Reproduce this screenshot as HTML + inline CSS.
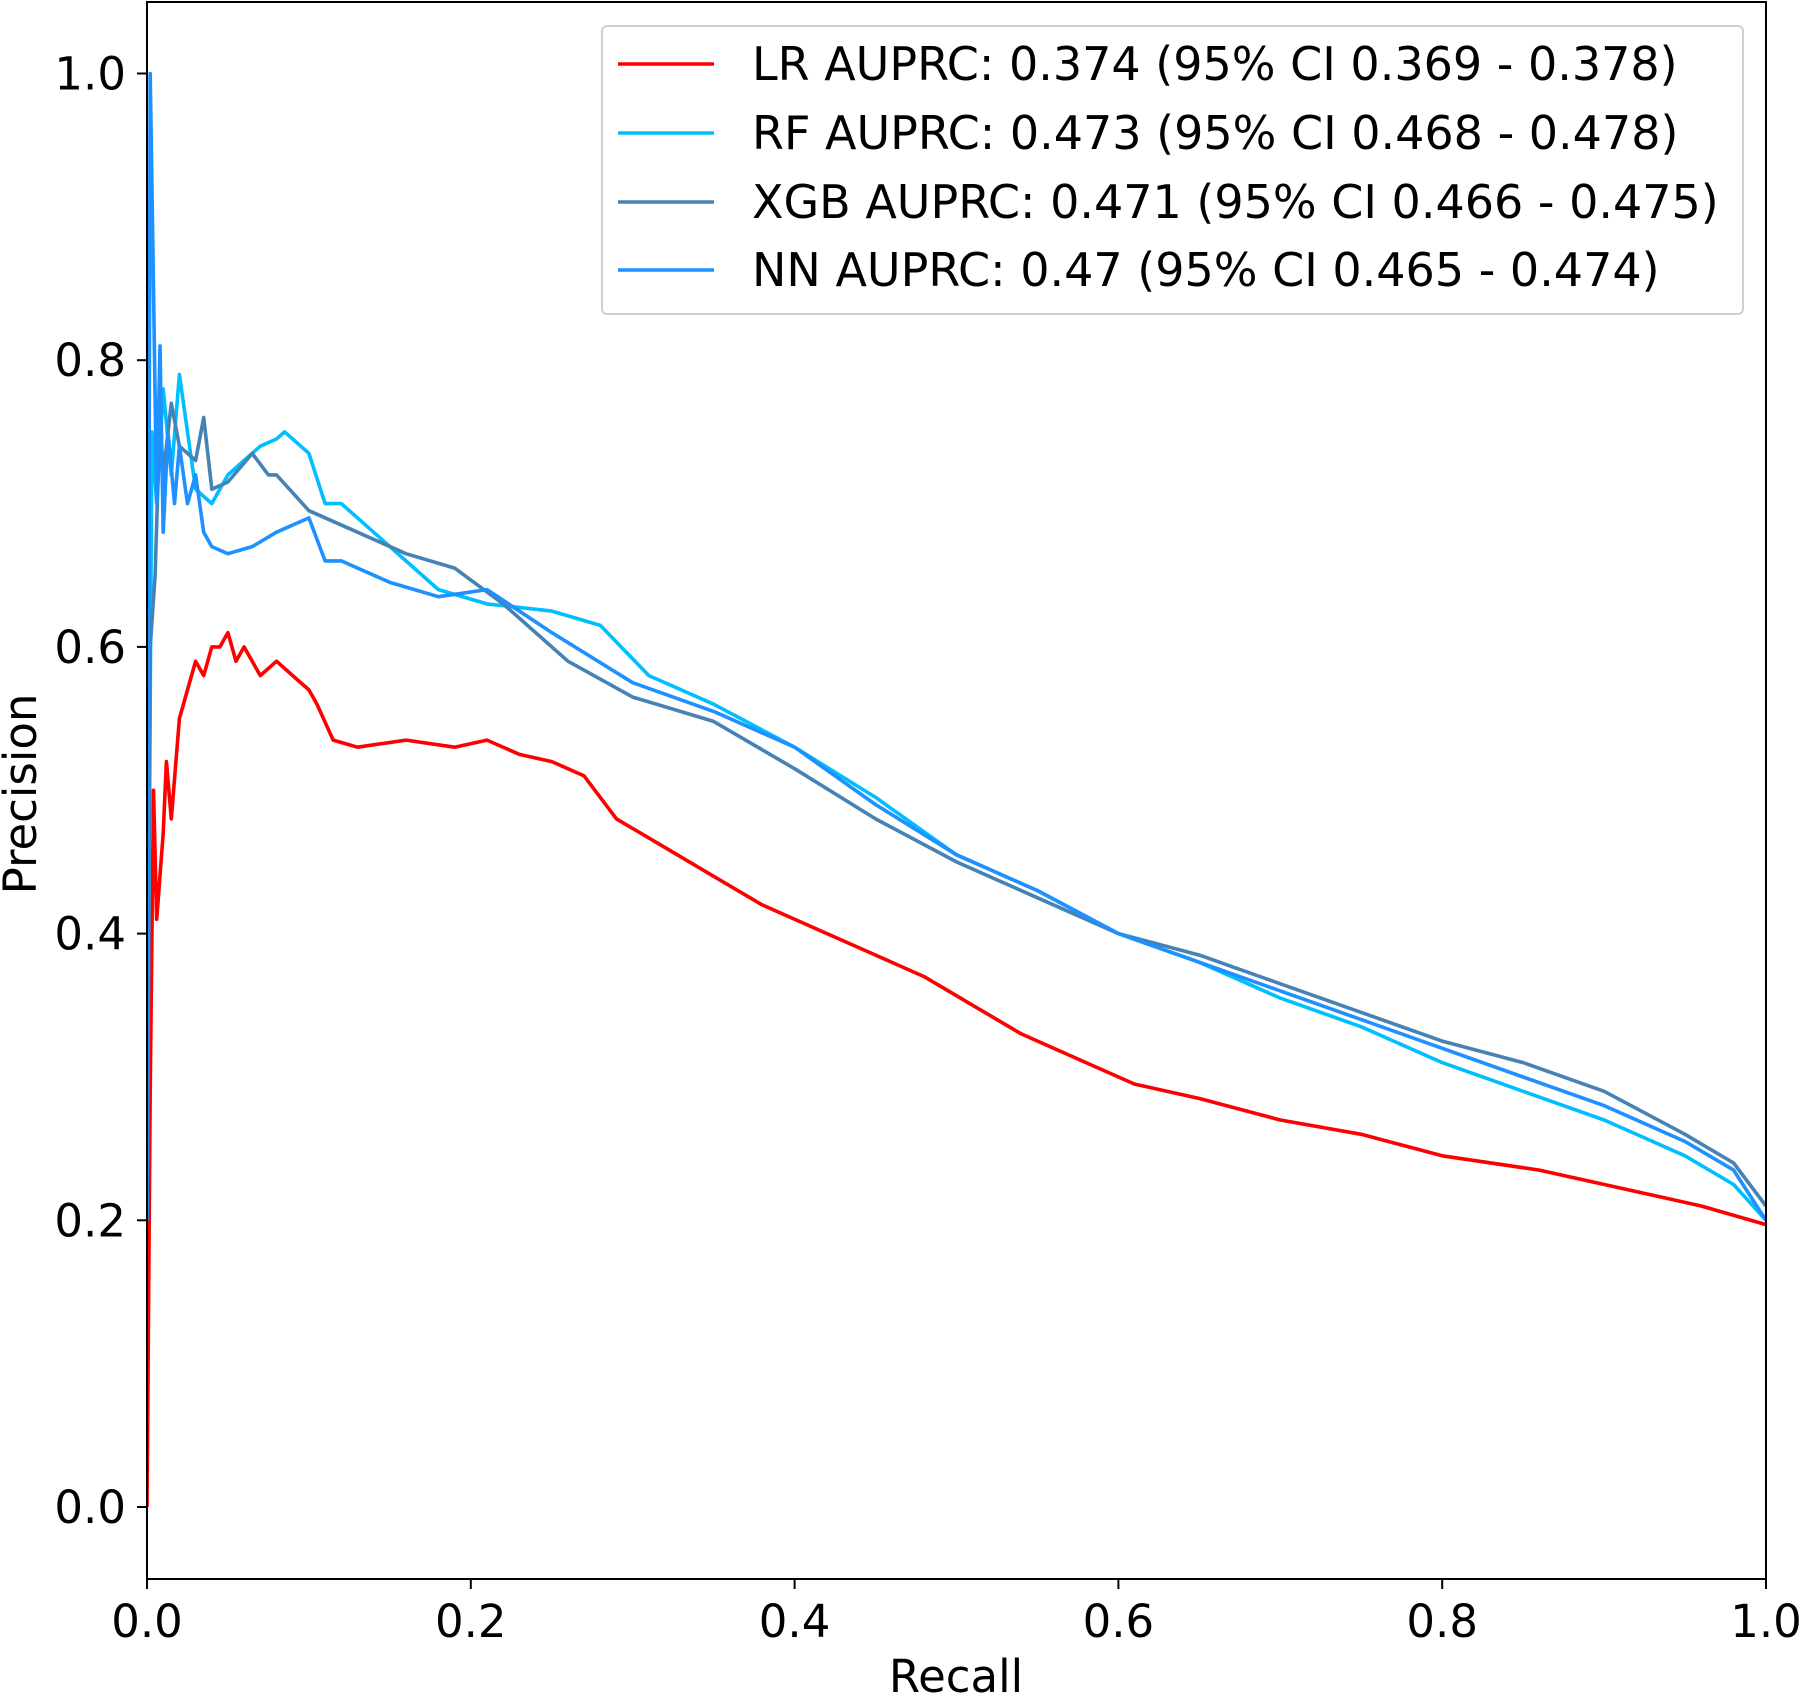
<!DOCTYPE html>
<html><head><meta charset="utf-8"><style>
html,body{margin:0;padding:0;background:#fff;}
svg{display:block;font-family:"DejaVu Sans","Liberation Sans",sans-serif;}
</style></head><body>
<svg id="chart" width="1800" height="1694" viewBox="0 0 1800 1694" xmlns="http://www.w3.org/2000/svg"></svg>
<script>
const xTicks=[0,0.2,0.4,0.6,0.8,1.0];
const yTicks=[0,0.2,0.4,0.6,0.8,1.0];
const xTickLabels=["0.0","0.2","0.4","0.6","0.8","1.0"];
const yTickLabels=["0.0","0.2","0.4","0.6","0.8","1.0"];
const seriesNames=["LR","RF","XGB","NN"];
const legendLabels=["LR AUPRC: 0.374 (95% CI 0.369 - 0.378)","RF AUPRC: 0.473 (95% CI 0.468 - 0.478)","XGB AUPRC: 0.471 (95% CI 0.466 - 0.475)","NN AUPRC: 0.47 (95% CI 0.465 - 0.474)"];
const lrRecall=[0,0.002,0.004,0.006,0.01,0.012,0.015,0.02,0.025,0.03,0.035,0.04,0.045,0.05,0.055,0.06,0.07,0.08,0.09,0.1,0.105,0.115,0.13,0.16,0.19,0.21,0.23,0.25,0.27,0.29,0.32,0.35,0.38,0.42,0.45,0.48,0.51,0.54,0.58,0.61,0.65,0.7,0.75,0.8,0.86,0.92,0.96,1.0];
const lrPrec=[0.0,0.29,0.5,0.41,0.47,0.52,0.48,0.55,0.57,0.59,0.58,0.6,0.6,0.61,0.59,0.6,0.58,0.59,0.58,0.57,0.56,0.535,0.53,0.535,0.53,0.535,0.525,0.52,0.51,0.48,0.46,0.44,0.42,0.4,0.385,0.37,0.35,0.33,0.31,0.295,0.285,0.27,0.26,0.245,0.235,0.22,0.21,0.197];
const rfRecall=[0,0.003,0.006,0.01,0.015,0.02,0.03,0.04,0.05,0.06,0.07,0.08,0.085,0.095,0.1,0.11,0.12,0.15,0.18,0.21,0.25,0.28,0.31,0.35,0.4,0.45,0.5,0.55,0.6,0.65,0.7,0.75,0.8,0.85,0.9,0.95,0.98,1.0];
const rfPrec=[0.2,0.75,0.7,0.78,0.72,0.79,0.71,0.7,0.72,0.73,0.74,0.745,0.75,0.74,0.735,0.7,0.7,0.67,0.64,0.63,0.625,0.615,0.58,0.56,0.53,0.495,0.455,0.43,0.4,0.38,0.355,0.335,0.31,0.29,0.27,0.245,0.225,0.2];
const xgbRecall=[0,0.002,0.005,0.008,0.01,0.015,0.02,0.03,0.035,0.04,0.05,0.065,0.075,0.08,0.1,0.13,0.16,0.19,0.22,0.26,0.3,0.35,0.4,0.45,0.5,0.55,0.6,0.65,0.7,0.75,0.8,0.85,0.9,0.95,0.98,1.0];
const xgbPrec=[0.2,0.6,0.65,0.76,0.72,0.77,0.74,0.73,0.76,0.71,0.715,0.735,0.72,0.72,0.695,0.68,0.665,0.655,0.63,0.59,0.565,0.548,0.515,0.48,0.45,0.425,0.4,0.385,0.365,0.345,0.325,0.31,0.29,0.26,0.24,0.21];
const nnRecall=[0,0.002,0.004,0.006,0.008,0.01,0.013,0.017,0.02,0.025,0.03,0.035,0.04,0.05,0.065,0.08,0.1,0.11,0.12,0.15,0.18,0.21,0.25,0.3,0.35,0.4,0.45,0.5,0.55,0.6,0.65,0.7,0.75,0.8,0.85,0.9,0.95,0.98,1.0];
const nnPrec=[0.2,1.0,0.85,0.7,0.81,0.68,0.75,0.7,0.74,0.7,0.72,0.68,0.67,0.665,0.67,0.68,0.69,0.66,0.66,0.645,0.635,0.64,0.61,0.575,0.555,0.53,0.49,0.455,0.43,0.4,0.38,0.36,0.34,0.32,0.3,0.28,0.255,0.235,0.2];
const colors=["#ff0000","#00bfff","#4682b4","#1e90ff"];

const NS="http://www.w3.org/2000/svg";
const svg=document.getElementById('chart');
const X0=147,X1=1766,Y0=1507,YU=1433.5,TOP=2,BOT=1579;
function xs(v){return X0+v*(X1-X0);}
function ys(v){return Y0-v*YU;}
function mk(tag,attrs,parent){const e=document.createElementNS(NS,tag);for(const k in attrs)e.setAttribute(k,attrs[k]);(parent||svg).appendChild(e);return e;}

const clip=mk('clipPath',{id:'pc'});mk('rect',{x:X0,y:TOP,width:X1-X0,height:BOT-TOP},clip);

const data=[[lrRecall,lrPrec],[rfRecall,rfPrec],[xgbRecall,xgbPrec],[nnRecall,nnPrec]];
data.forEach((d,i)=>{
  const pts=d[0].map((r,j)=>xs(r).toFixed(1)+','+ys(d[1][j]).toFixed(1)).join(' ');
  const pl=mk('polyline',{points:pts,fill:'none',stroke:colors[i],'stroke-width':3.6,'stroke-linejoin':'round','clip-path':'url(#pc)'});
  
  
});

const frame=mk('rect',{x:X0,y:TOP,width:X1-X0,height:BOT-TOP,fill:'none',stroke:'#000','stroke-width':2});



xTicks.forEach((v,i)=>{
  mk('line',{x1:xs(v),x2:xs(v),y1:BOT,y2:BOT+10,stroke:'#000','stroke-width':2});
  const t=mk('text',{x:xs(v),y:1637,'text-anchor':'middle','font-size':45});
  t.textContent=xTickLabels[i];
  
  
});
yTicks.forEach((v,i)=>{
  mk('line',{x1:X0-10,x2:X0,y1:ys(v),y2:ys(v),stroke:'#000','stroke-width':2});
  const t=mk('text',{x:126,y:ys(v)+16,'text-anchor':'end','font-size':45});
  t.textContent=yTickLabels[i];
  
  
});
const xt=mk('text',{x:956,y:1692,'text-anchor':'middle','font-size':45});
xt.textContent='Recall';


const yt=mk('text',{x:0,y:0,'text-anchor':'middle','font-size':45,transform:'translate(36,794) rotate(-90)'});
yt.textContent='Precision';



const lg=mk('g',{});


mk('rect',{x:602,y:26,width:1141,height:288,rx:5,fill:'#fff',stroke:'#d0d0d0','stroke-width':2},lg);
const ly=[64,133,202,270];
legendLabels.forEach((s,i)=>{
  const g=mk('g',{},lg);
  
  
  mk('line',{x1:618,x2:714,y1:ly[i],y2:ly[i],stroke:colors[i],'stroke-width':3.6},g);
  const t=mk('text',{x:752,y:ly[i]+16,'font-size':46},g);
  t.textContent=s;
});
</script>
</body></html>
